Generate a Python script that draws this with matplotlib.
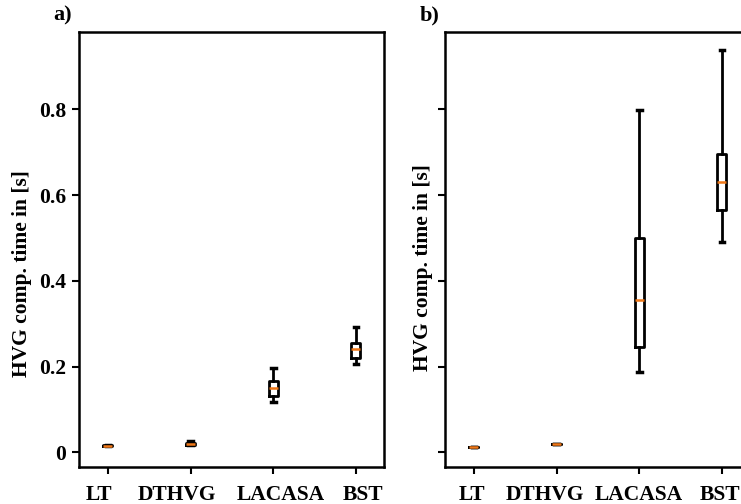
import matplotlib
matplotlib.use("Agg")
import matplotlib.pyplot as plt
from matplotlib.transforms import ScaledTranslation

categories = ["LT", "DTHVG", "LACASA", "BST"]

# panel a) box statistics
a_whislo = [0.0145, 0.0175, 0.117, 0.207]
a_q1     = [0.0145, 0.0180, 0.132, 0.221]
a_med    = [0.0155, 0.0190, 0.149, 0.240]
a_q3     = [0.0165, 0.0210, 0.167, 0.255]
a_whishi = [0.0165, 0.0270, 0.196, 0.293]

# panel b) box statistics
b_whislo = [0.013, 0.0187, 0.188, 0.491]
b_q1     = [0.013, 0.0187, 0.246, 0.566]
b_med    = [0.013, 0.0187, 0.355, 0.631]
b_q3     = [0.013, 0.0187, 0.499, 0.695]
b_whishi = [0.013, 0.0187, 0.798, 0.938]

yticks = [0, 0.2, 0.4, 0.6, 0.8]
ytick_labels = ["0", "0.2", "0.4", "0.6", "0.8"]
ylabel = "HVG comp. time in [s]"
panel_labels = ["a)", "b)"]

plt.rcParams['font.family'] = ['Liberation Serif', 'DejaVu Serif']
plt.rcParams['font.weight'] = 'bold'

fig = plt.figure(figsize=(7.41, 5.04), dpi=100)
W, H = 741, 504
ax_a = fig.add_axes([79 / W, 1 - 467 / H, 305 / W, 435 / H])
ax_b = fig.add_axes([445 / W, 1 - 467 / H, 305 / W, 435 / H])

def make_stats(lo, q1, med, q3, hi):
    return [dict(whislo=lo[i], q1=q1[i], med=med[i], q3=q3[i], whishi=hi[i],
                 fliers=[], label=categories[i]) for i in range(len(categories))]

box_kw = dict(
    widths=0.11,
    showfliers=False,
    boxprops=dict(color='black', linewidth=2),
    whiskerprops=dict(color='black', linewidth=2),
    capprops=dict(color='black', linewidth=2.5),
    medianprops=dict(color='#f07818', linewidth=1.8),
)

ax_a.bxp(make_stats(a_whislo, a_q1, a_med, a_q3, a_whishi), **box_kw)
ax_b.bxp(make_stats(b_whislo, b_q1, b_med, b_q3, b_whishi), **box_kw)

# horizontal label offsets (pixels) as placed in the reference
label_shift = [[-9, -13.5, 8, 7], [-1.7, -12, 0, -1.7]]

for i, ax in enumerate([ax_a, ax_b]):
    ax.set_xlim(0.65, 4.34)
    ax.set_ylim(-0.034, 0.98)
    ax.set_yticks(yticks)
    if i == 0:
        ax.set_yticklabels(ytick_labels)
    else:
        ax.set_yticklabels([])
    ax.set_xticks(range(1, 5))
    ax.set_xticklabels(categories)
    ax.tick_params(axis='both', direction='out', length=5, width=1.5,
                   labelsize=15.5)
    ax.tick_params(axis='x', pad=8)
    ax.tick_params(axis='y', pad=4)
    for k, lab in enumerate(ax.get_xticklabels()):
        lab.set_fontweight('bold')
        lab.set_transform(lab.get_transform() +
                          ScaledTranslation(label_shift[i][k] / 100, 0, fig.dpi_scale_trans))
    for lab in ax.get_yticklabels():
        lab.set_fontweight('bold')
    for sp in ax.spines.values():
        sp.set_linewidth(1.8)
    ax.set_ylabel(ylabel, fontsize=15.5, fontweight='bold')

ax_a.yaxis.set_label_coords(-47 / 305, (467 - 274) / 435)
ax_b.yaxis.set_label_coords(-12 / 305, (467 - 268) / 435)

fig.text(53 / W, 1 - 15 / H, panel_labels[0], fontsize=16, fontweight='bold',
         ha='left', va='center')
fig.text(420 / W, 1 - 15 / H, panel_labels[1], fontsize=16, fontweight='bold',
         ha='left', va='center')

fig.savefig("out.png", dpi=100)
